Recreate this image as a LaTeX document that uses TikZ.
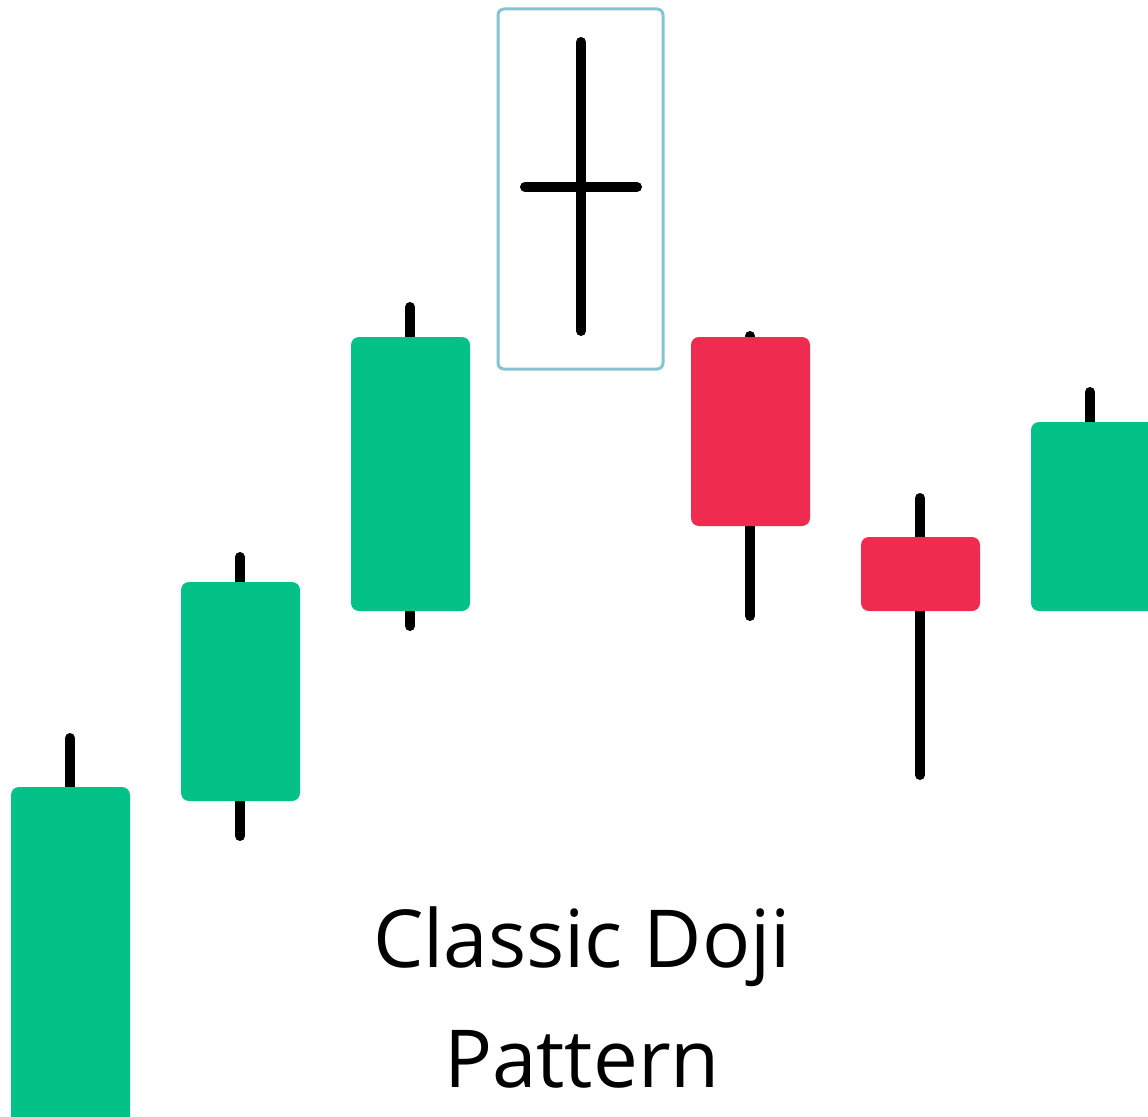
\documentclass[tikz,border=0pt]{standalone}
\usepackage{fontspec}
\setmainfont{Open Sans}
\definecolor{bull}{HTML}{04C287}
\definecolor{bear}{HTML}{F02B50}
\definecolor{frame}{HTML}{84C3D1}
\tikzset{
  wick/.style={line width=10pt, line cap=round, black},
  bullbody/.style={fill=bull, draw=none, rounded corners=8pt},
  bearbody/.style={fill=bear, draw=none, rounded corners=8pt},
  caption/.style={font=\fontsize{80}{96}\selectfont, anchor=base, inner sep=0pt}
}
\begin{document}
\begin{tikzpicture}[x=1pt,y=-1pt]
\useasboundingbox (0,0) rectangle (1148,1116);
% candle 1
\draw[wick] (70,738) -- (70,800);
\fill[bullbody] (11,787) rectangle (130,1130);
% candle 2
\draw[wick] (240,557) -- (240,836);
\fill[bullbody] (181,582) rectangle (300,801);
% candle 3
\draw[wick] (410,307) -- (410,626);
\fill[bullbody] (351,337) rectangle (470,611);
% doji
\draw[frame, line width=3pt, rounded corners=6pt] (498,9) rectangle (663,369);
\draw[wick] (581,42) -- (581,331);
\draw[wick] (525,187) -- (637,187);
% candle 5
\draw[wick] (750,336) -- (750,616);
\fill[bearbody] (691,337) rectangle (810,526);
% candle 6
\draw[wick] (920,498) -- (920,775);
\fill[bearbody] (861,537) rectangle (980,611);
% candle 7
\draw[wick] (1090,392) -- (1090,430);
\fill[bullbody] (1031,422) rectangle (1160,611);
% caption
\node[caption] (t1) at (582,967) {Classic Doji};
\node[caption] (t2) at (582,1087) {Pattern};
\end{tikzpicture}
\end{document}
